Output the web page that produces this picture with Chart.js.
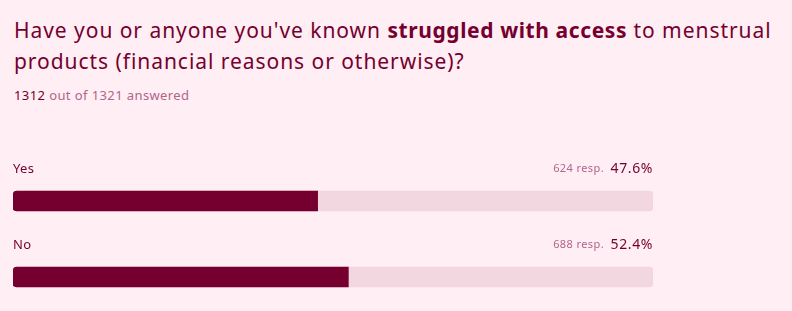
<!DOCTYPE html>
<html>
<head>
<meta charset="utf-8">
<script src="https://cdn.jsdelivr.net/npm/chart.js@4/dist/chart.umd.min.js"></script>
<style>
  html, body { margin: 0; padding: 0; background: #FFEEF3; overflow: hidden; }
  body { width: 792px; height: 311px; position: relative; font-family: "Noto Sans", sans-serif; color: #75002F; }
  #title { position: absolute; left: 14px; top: 15px; width: 778px; font-size: 21px; line-height: 31px; margin: 0; font-weight: normal; letter-spacing: 0.95px; }
  #title b { font-weight: bold; letter-spacing: 0.6px; }
  #sub { position: absolute; left: 14px; top: 86px; font-size: 13px; color: #B0658A; letter-spacing: 0.4px; }
  #sub span { color: #75002F; }
  #wrap { position: absolute; left: 0; top: 125px; width: 792px; height: 190px; }
</style>
</head>
<body>
<h1 id="title">Have you or anyone you've known <b>struggled with access</b> to menstrual products (financial reasons or otherwise)?</h1>
<div id="sub"><span>1312</span> out of 1321 answered</div>
<div id="wrap"><canvas id="chart1"></canvas></div>
<script>
const answers = ['Yes', 'No'];
const responses = [624, 688];
const percents = [47.6, 52.4];
const trackValues = [100, 100];

const darkColor = '#75002F';
const trackColor = '#F2D6E0';
const softText = '#B0658A';

// labels above each bar: answer name, response count, percentage
const rowLabels = {
  id: 'rowLabels',
  afterDatasetsDraw(chart) {
    const ctx = chart.ctx;
    const area = chart.chartArea;
    const meta = chart.getDatasetMeta(0);
    ctx.save();
    ctx.textBaseline = 'middle';
    meta.data.forEach((bar, i) => {
      let y = bar.y - 32;
      ctx.fillStyle = darkColor;
      ctx.font = '13px "Noto Sans"';
      ctx.letterSpacing = '0.3px';
      ctx.textAlign = 'left';
      ctx.fillText(answers[i], area.left, y);
      ctx.textAlign = 'right';
      ctx.font = '14px "Noto Sans"';
      ctx.letterSpacing = '0.6px';
      ctx.fillText(percents[i].toFixed(1) + '%', area.right, y);
      ctx.fillStyle = softText;
      ctx.font = '11px "Noto Sans"';
      ctx.letterSpacing = '0.4px';
      ctx.fillText(responses[i] + ' resp.', area.right - 49, y);
    });
    ctx.restore();
  }
};

var ctx = document.getElementById('chart1');
var myChart = new Chart(ctx, {
  type: 'bar',
  data: {
    labels: answers,
    datasets: [
      {
        data: percents,
        backgroundColor: darkColor,
        borderRadius: { topLeft: 4, bottomLeft: 4, topRight: 0, bottomRight: 0 },
        borderSkipped: false,
        barThickness: 20,
        grouped: false
      },
      {
        data: trackValues,
        backgroundColor: trackColor,
        borderRadius: 4,
        borderSkipped: false,
        barThickness: 20,
        grouped: false
      }
    ]
  },
  options: {
    indexAxis: 'y',
    responsive: true,
    maintainAspectRatio: false,
    animation: false,
    layout: { padding: { left: 13, right: 139, top: 38, bottom: 0 } },
    scales: {
      x: { min: 0, max: 100, display: false },
      y: { display: false }
    },
    plugins: {
      legend: { display: false },
      tooltip: { enabled: false }
    }
  },
  plugins: [rowLabels]
});
</script>
</body>
</html>
